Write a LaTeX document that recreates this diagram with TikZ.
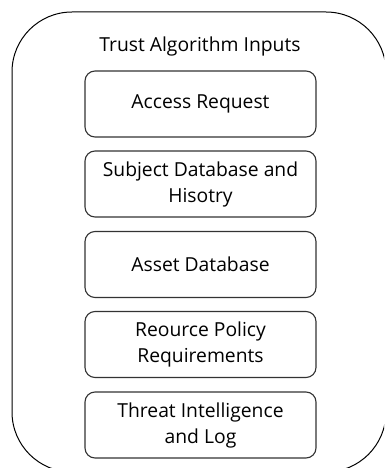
\documentclass[tikz,border=0pt]{standalone}
\usepackage{fontspec}
\setmainfont{Open Sans}
\begin{document}
\begin{tikzpicture}[x=1pt,y=-1pt,
  inputbox/.style={draw=black!80, line width=1.1pt, rounded corners=10pt,
    minimum width=231pt, minimum height=66pt, align=center,
    font=\fontsize{19.3}{26}\selectfont},
  frame/.style={draw=black, line width=1pt, rounded corners=60pt}]
\useasboundingbox (0,0) rectangle (384,468);
\begin{scope}
\clip (0,0) rectangle (384,468);
\draw[frame] (12,12) rectangle (386,472);
\end{scope}
\node[font=\fontsize{19.3}{26}\selectfont] (title) at (200,46) {Trust Algorithm Inputs};
\node[inputbox] (req) at (200.5,104) {Access Request};
\node[inputbox] (subj) at (200.5,184) {Subject Database and\\Hisotry};
\node[inputbox] (asset) at (200.5,264.5) {Asset Database};
\node[inputbox] (policy) at (200.5,344.5) {Reource Policy\\Requirements};
\node[inputbox] (threat) at (200.5,425) {Threat Intelligence\\and Log};
\end{tikzpicture}
\end{document}
